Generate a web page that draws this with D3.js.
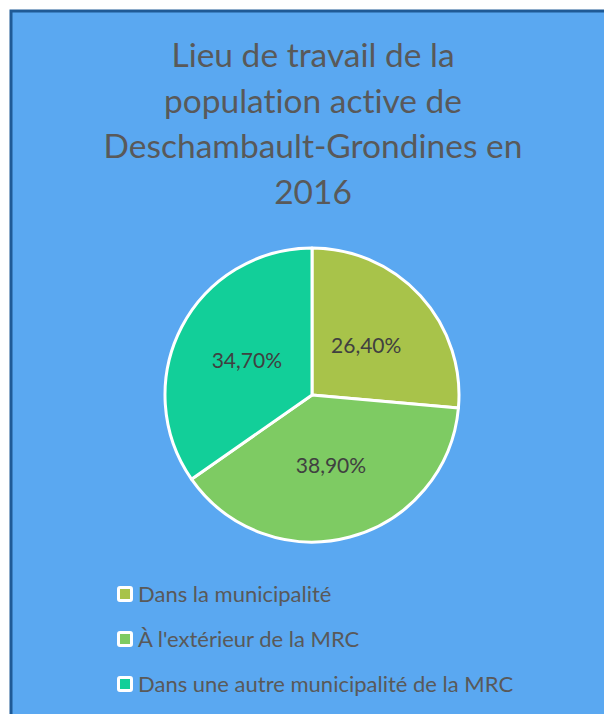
<!DOCTYPE html>
<html>
<head>
<meta charset="utf-8">
<script src="https://cdn.jsdelivr.net/npm/d3@7"></script>
<style>
  html, body { margin: 0; padding: 0; background: #fff; }
  svg { display: block; }
  text { font-variant-ligatures: none; font-feature-settings: "liga" 0; }
</style>
</head>
<body>
<div id="chart"></div>
<script>
var titleLines = ["Lieu de travail de la", "population active de", "Deschambault-Grondines en", "2016"];
var categories = ["Dans la municipalité", "À l'extérieur de la MRC", "Dans une autre municipalité de la MRC"];
var values = [26.4, 38.9, 34.7];
var labels = ["26,40%", "38,90%", "34,70%"];
var colors = ["#a8c34a", "#7ecb63", "#12cf99"];

var w = 604, h = 714;
var svg = d3.select("#chart").append("svg").attr("width", w).attr("height", h);

// panel
svg.append("rect")
  .attr("x", 11).attr("y", 11)
  .attr("width", w + 20).attr("height", h + 20)
  .attr("fill", "#5aa8f1")
  .attr("stroke", "#1f5a96")
  .attr("stroke-width", 3);

// title
svg.append("g").selectAll("text")
  .data(titleLines)
  .enter().append("text")
  .attr("x", 313)
  .attr("y", function(d, i){ return 67 + i * 45.5; })
  .attr("text-anchor", "middle")
  .attr("font-family", "Lato, 'Open Sans', sans-serif")
  .attr("font-size", 33.5)
  .attr("fill", "#595959")
  .text(function(d){ return d; });

// pie
var cx = 312, cy = 395, r = 147;
var pie = d3.pie().sort(null).value(function(d){ return d; });
var arc = d3.arc().innerRadius(0).outerRadius(r);
var labelArc = d3.arc().innerRadius(r * 0.5).outerRadius(r * 0.5);
var arcs = pie(values);

var g = svg.append("g").attr("transform", "translate(" + cx + "," + cy + ")");
g.selectAll("path")
  .data(arcs)
  .enter().append("path")
  .attr("d", arc)
  .attr("fill", function(d, i){ return colors[i]; })
  .attr("stroke", "#fff")
  .attr("stroke-width", 3)
  .attr("stroke-linejoin", "round");

g.selectAll("text")
  .data(arcs)
  .enter().append("text")
  .attr("transform", function(d){ return "translate(" + labelArc.centroid(d) + ")"; })
  .attr("text-anchor", "middle")
  .attr("dy", "0.35em")
  .attr("font-family", "Lato, 'Open Sans', sans-serif")
  .attr("font-size", 21)
  .attr("fill", "#404040")
  .text(function(d, i){ return labels[i]; });

// legend
var legend = svg.append("g").attr("transform", "translate(117,0)");
var rows = legend.selectAll("g")
  .data(categories)
  .enter().append("g")
  .attr("transform", function(d, i){ return "translate(0," + (594 + i * 45) + ")"; });

rows.append("rect")
  .attr("x", 1.5).attr("y", -6.5)
  .attr("width", 13).attr("height", 13)
  .attr("rx", 1.5)
  .attr("fill", function(d, i){ return colors[i]; })
  .attr("stroke", "#fff")
  .attr("stroke-width", 3);

rows.append("text")
  .attr("x", 21)
  .attr("dy", "0.35em")
  .attr("font-family", "Lato, 'Open Sans', sans-serif")
  .attr("font-size", 22)
  .attr("fill", "#595959")
  .text(function(d){ return d; });
</script>
</body>
</html>
